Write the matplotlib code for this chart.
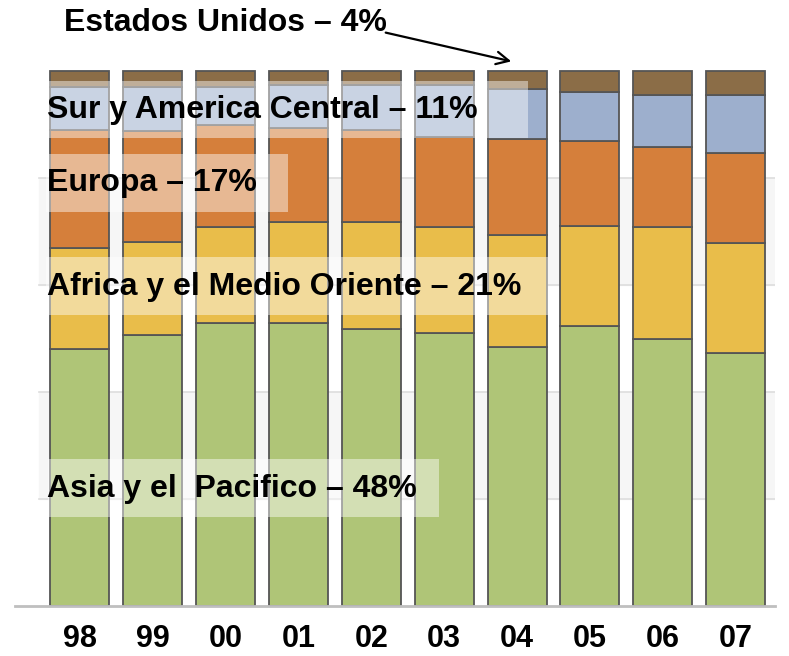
import numpy as np
import matplotlib
matplotlib.use("Agg")
import matplotlib.pyplot as plt
from matplotlib.patches import Rectangle, FancyArrowPatch

plt.rcParams['font.family'] = ['Liberation Sans', 'DejaVu Sans']

# shares per region (percent), bottom to top
years = ["98", "99", "00", "01", "02", "03", "04", "05", "06", "07"]
asia = [48.0, 50.7, 52.9, 52.9, 51.8, 51.0, 48.4, 52.3, 49.9, 47.3]
africa = [18.9, 17.4, 17.9, 18.9, 20.0, 19.8, 20.9, 18.7, 20.9, 20.6]
europa = [22.1, 20.7, 19.1, 17.6, 17.2, 16.8, 17.9, 15.9, 15.0, 16.8]
sur_america = [8.0, 8.2, 7.1, 8.0, 8.4, 9.7, 9.5, 9.2, 9.7, 10.8]
estados_unidos = [3.0, 3.0, 3.0, 2.6, 2.6, 2.7, 3.3, 3.9, 4.5, 4.5]

labels = ["Asia y el  Pacifico \u2013 48%", "Africa y el Medio Oriente \u2013 21%",
          "Europa \u2013 17%", "Sur y America Central \u2013 11%", "Estados Unidos \u2013 4%"]
colors = ["#AFC577", "#E9BD4A", "#D57F3B", "#9DAFCD", "#8B6D47"]

W, H = 789, 656
fig = plt.figure(figsize=(W / 100, H / 100), dpi=100)


def fx(x):
    return x / W


def fy(y):
    return 1 - y / H


ax = fig.add_axes([fx(15), fy(606), fx(775) - fx(15), fy(71) - fy(606)])

series = [asia, africa, europa, sur_america, estados_unidos]
tot = np.array(series).sum(axis=0)
x = np.arange(len(years))
bottom = np.zeros(len(years))
for vals, col in zip(series, colors):
    v = np.array(vals) / tot
    ax.bar(x, v, bottom=bottom, width=0.81, color=col, edgecolor="#555555",
           linewidth=1.3, zorder=3, clip_on=False)
    bottom += v

ax.set_xlim(-0.892, 9.542)
ax.set_ylim(0, 1)

# alternating background bands + grid lines
for lo in [0.2, 0.6]:
    ax.axhspan(lo, lo + 0.2, xmin=0.0316, color="#F6F6F6", zorder=0)
for g in [0.2, 0.4, 0.6, 0.8]:
    ax.axhline(g, xmin=0.0316, color="#DDDDDD", linewidth=1.2, zorder=1)

for s in ["top", "right", "left"]:
    ax.spines[s].set_visible(False)
ax.spines["bottom"].set_color("#BFBFBF")
ax.spines["bottom"].set_linewidth(2)
ax.spines["bottom"].set_zorder(4)
ax.set_yticks([])
ax.set_xticks(x)
ax.set_xticklabels(years, fontsize=22, fontweight="bold")
ax.tick_params(axis="x", length=0, pad=13)

# label boxes (semi-transparent white) and texts
boxes = [(48, 459, 439, 517), (46, 257, 548, 315), (46, 154, 288, 212), (46, 81, 528, 138)]
text_y = [489, 287, 183, 110]
for (x0, y0, x1, y1), ty, lab in zip(boxes, text_y, labels[:4]):
    fig.patches.append(Rectangle((fx(x0), fy(y1)), fx(x1) - fx(x0), fy(y0) - fy(y1),
                                 transform=fig.transFigure, facecolor="white",
                                 alpha=0.45, edgecolor="none", zorder=5))
    fig.text(fx(47), fy(ty), lab, fontsize=23, fontweight="bold", va="center",
             ha="left", zorder=6)

fig.text(fx(64), fy(23), labels[4], fontsize=23, fontweight="bold", va="center", ha="left")
fig.add_artist(FancyArrowPatch(
    (fx(383), fy(32)), (fx(514), fy(62)), transform=fig.transFigure,
    arrowstyle="->,head_length=9,head_width=4.5", color="black", linewidth=1.6,
    mutation_scale=1))

fig.savefig("out.png", dpi=100)
